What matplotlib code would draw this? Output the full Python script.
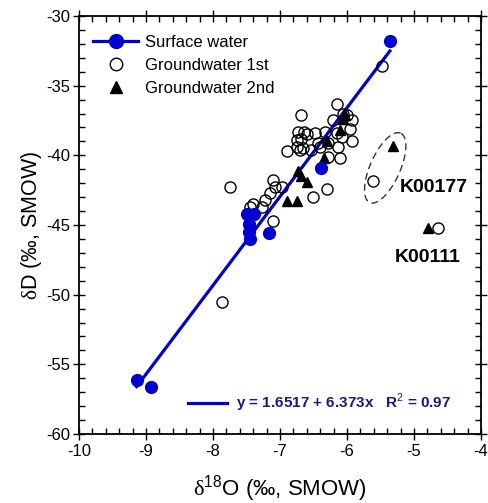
""" dD vs d18O for surface water and groundwater. """

import numpy as np
from matplotlib import pyplot as plt
from matplotlib.lines import Line2D

plt.rcParams['font.family'] = ['Liberation Sans', 'DejaVu Sans']
plt.rcParams['mathtext.fontset'] = 'custom'
plt.rcParams['mathtext.rm'] = 'Liberation Serif'
plt.rcParams['mathtext.sf'] = 'Liberation Sans'
plt.rcParams['axes.unicode_minus'] = False

# Surface water
sw_d18o = [-5.36, -6.39, -7.17, -7.49, -7.39, -7.47, -7.46, -7.45, -9.14, -8.93]
sw_dd = [-31.8, -40.9, -45.6, -44.2, -44.2, -44.9, -45.5, -46.0, -56.1, -56.6]

# Groundwater 1st
gw1_d18o = [-5.48, -6.15, -6.06, -6.68, -6.00, -5.93, -6.21, -6.73, -6.64, -6.60,
            -6.33, -6.48, -6.15, -5.96, -6.68, -6.75, -6.43, -6.29, -6.08, -5.93,
            -6.89, -6.75, -6.70, -6.65, -6.53, -6.40, -6.28, -6.10, -6.13, -7.75,
            -7.10, -7.07, -6.97, -7.15, -7.22, -7.27, -7.40, -7.45, -7.10, -6.50,
            -6.30, -7.87, -5.61, -4.64]
gw1_dd = [-33.6, -36.3, -37.0, -37.1, -37.1, -37.5, -37.5, -38.3, -38.3, -38.5,
          -38.3, -38.4, -38.4, -38.1, -38.8, -38.9, -39.1, -39.1, -38.7, -39.0,
          -39.7, -39.4, -39.6, -39.5, -39.6, -39.4, -40.1, -40.2, -39.4, -42.3,
          -41.8, -42.3, -42.3, -42.7, -43.2, -43.7, -43.5, -43.7, -44.7, -43.0,
          -42.4, -50.5, -41.85, -45.2]

# Groundwater 2nd
gw2_d18o = [-6.03, -6.06, -6.10, -6.30, -6.35, -6.73, -6.68, -6.60, -6.90, -6.75,
            -5.31, -4.79]
gw2_dd = [-37.1, -37.4, -38.2, -39.0, -40.2, -41.1, -41.5, -41.9, -43.3, -43.3,
          -39.3, -45.2]

# Regression
fit_b, fit_m, fit_r2 = 1.6517, 6.373, 0.97

blue = '#0000d2'

fig = plt.figure(figsize=(4.89, 5.03), dpi=100)
ax = fig.add_axes([0.1616, 0.1372, 0.822, 0.831])

xfit = np.array([min(sw_d18o), max(sw_d18o)])
ax.plot(xfit, fit_b + fit_m*xfit, color=blue, lw=2.3, zorder=2)

ax.plot(gw1_d18o, gw1_dd, 'o', mfc='none', mec='k', ms=8, mew=1.0, zorder=3)
ax.plot(gw2_d18o, gw2_dd, '^', color='k', ms=7.5, zorder=4)
ax.plot(sw_d18o, sw_dd, 'o', color=blue, ms=8.5, zorder=5)

# Dashed ellipse round K00177 (drawn in pixel units, then to data)
sx, sy = 67.0, 13.93
cx, cy = -5.43, -40.9
t = np.linspace(0, 2*np.pi, 200)
th = np.deg2rad(66)
a_px, b_px = 38, 15
ex = a_px*np.cos(t)*np.cos(th) - b_px*np.sin(t)*np.sin(th)
ey = a_px*np.cos(t)*np.sin(th) + b_px*np.sin(t)*np.cos(th)
ax.plot(cx + ex/sx, cy + ey/sy, color='#333333', ls=(0, (5, 3)), lw=1.0)

ax.text(-5.21, -42.3, 'K00177', fontsize=14, fontweight='bold', ha='left', va='center')
ax.text(-5.28, -47.3, 'K00111', fontsize=14, fontweight='bold', ha='left', va='center')

ax.set_xlim(-10, -4)
ax.set_ylim(-60, -30)
ax.set_xticks(np.arange(-10, -3.9, 1))
ax.set_yticks(np.arange(-60, -29, 5))
ax.set_xticks(np.arange(-10, -3.9, 0.2), minor=True)
ax.set_yticks(np.arange(-60, -29, 1), minor=True)
ax.tick_params(which='both', top=True, right=True, labelsize=12, width=1)
ax.tick_params(which='major', direction='inout', length=8)
ax.tick_params(which='minor', direction='in', length=4)
ax.tick_params(axis='y', which='major', pad=2)
for sp in ax.spines.values():
    sp.set_linewidth(1.3)

ax.set_xlabel(r'$\mathrm{\delta}^{\mathsf{18}}$O (‰, SMOW)', fontsize=16, labelpad=10)
ax.set_ylabel(r'$\mathrm{\delta}$D (‰, SMOW)', fontsize=15.5, labelpad=2)

# Legends
handles = [Line2D([], [], color=blue, lw=2.3, marker='o', ms=10),
           Line2D([], [], ls='none', marker='o', mfc='none', mec='k', ms=9),
           Line2D([], [], ls='none', marker='^', color='k', ms=9)]
leg1 = ax.legend(handles, ['Surface water', 'Groundwater 1st', 'Groundwater 2nd'],
                 loc='upper left', bbox_to_anchor=(0.035, 0.955), frameon=False,
                 fontsize=12, handlelength=2.7, handletextpad=0.4, labelspacing=0.48,
                 borderpad=0, borderaxespad=0)
ax.add_artist(leg1)
fit_lab = f'y = {fit_b} + {fit_m}x   R$^\\mathsf{{2}}$ = {fit_r2}'
ax.legend([Line2D([], [], color=blue, lw=2.3)], [fit_lab], loc='lower left',
          bbox_to_anchor=(0.27, 0.048), frameon=False, prop={'size': 11, 'weight': 'bold'},
          labelcolor='#18188c', handlelength=2.6, handletextpad=0.6,
          borderpad=0, borderaxespad=0)

plt.savefig('out.png', dpi=100)
print('Saved: out.png')
